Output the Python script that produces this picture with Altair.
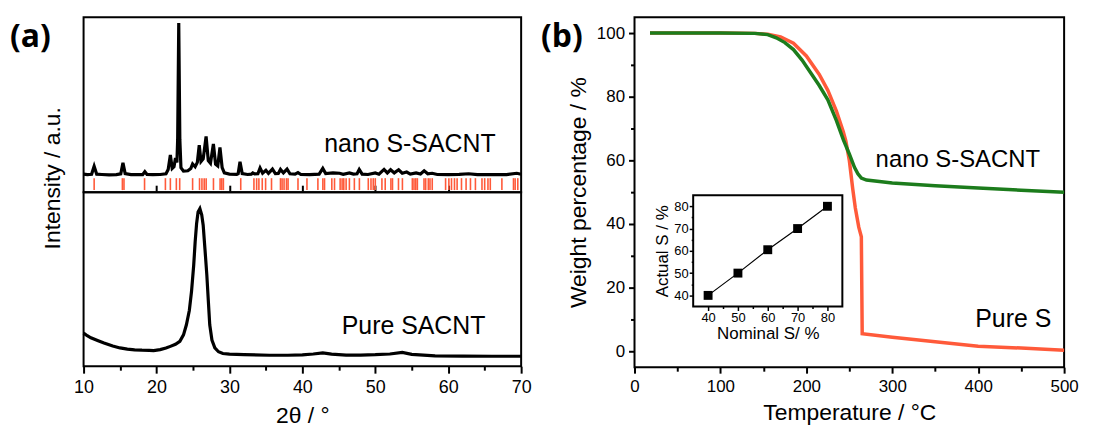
import altair as alt
import pandas as pd

FONT = "Arial, Liberation Sans, sans-serif"
RED = "#FF5A3A"
GREEN = "#1C7C1C"

# ---------------- (a) XRD data ----------------
s_theta = [10.0, 10.5, 11.1, 11.45, 11.8, 12.5, 13.5, 14.5, 15.1, 15.4, 15.7, 16.5, 17.5, 18.1, 18.4, 18.7,
           19.5, 20.5, 21.3, 21.6, 21.9, 22.15, 22.4, 22.6, 22.8, 22.9, 23.05, 23.2, 23.35, 23.7, 24.3, 24.7,
           24.95, 25.3, 25.6, 25.86, 26.1, 26.4, 26.8, 27.1, 27.4, 27.8, 28.1, 28.4, 28.7, 29.0, 29.3, 30.0,
           31.0, 31.2, 31.45, 31.75, 32.5, 33.0, 33.2, 33.45, 33.9, 34.2, 34.55, 35.0, 35.35, 35.9, 36.3,
           36.7, 37.0, 37.4, 37.9, 38.3, 39.0, 39.4, 39.8, 41.0, 42.3, 42.8, 43.2, 44.2, 45.1, 45.6, 46.45,
           47.0, 47.5, 47.8, 48.2, 49.0, 50.0, 50.5, 51.2, 51.65, 52.1, 52.6, 53.2, 53.7, 54.3, 54.8, 55.6,
           56.2, 56.7, 57.2, 57.8, 58.5, 60.0, 61.5, 62.8, 64.0, 66.0, 68.0, 69.4, 70.0]
s_int = [10.3, 10.0, 10.2, 14.8, 10.3, 10.1, 9.9, 10.0, 10.5, 16.7, 10.6, 10.0, 10.1, 10.0, 11.7, 10.1,
         10.0, 10.1, 10.5, 13.0, 21.2, 13.5, 14.5, 19.5, 17.0, 30.0, 96.6, 30.0, 14.0, 12.0, 12.2, 13.5,
         16.1, 14.5, 17.0, 26.9, 17.5, 19.0, 31.8, 18.0, 16.5, 27.5, 16.0, 15.0, 25.6, 14.0, 11.0, 10.3,
         10.2, 10.6, 17.4, 10.6, 10.1, 10.3, 11.0, 10.4, 10.5, 13.8, 10.8, 12.5, 10.7, 13.2, 10.6,
         10.7, 13.0, 11.0, 13.2, 10.5, 10.3, 11.2, 10.1, 10.0, 10.3, 13.6, 10.6, 11.0, 10.8, 10.2, 11.0,
         10.3, 10.5, 13.0, 10.3, 10.1, 11.0, 10.3, 13.0, 11.0, 12.8, 11.0, 12.8, 10.8, 11.5, 10.3, 11.0,
         10.4, 12.2, 10.5, 10.8, 10.1, 10.0, 10.2, 10.5, 10.0, 10.1, 10.0, 10.8, 10.2]

c_theta = [10.0, 10.5, 11.0, 12.0, 12.8, 14.0, 15.0, 16.0, 17.0, 18.0, 19.0, 19.6, 20.5, 21.3, 21.9, 22.6,
           23.2, 23.7, 24.1, 24.5, 24.8, 25.1, 25.3, 25.5, 25.7, 25.95, 26.2, 26.4, 26.65, 26.9, 27.1,
           27.3, 27.6, 28.0, 28.5, 29.1, 30.0, 32.0, 35.5, 38.0, 40.0, 41.5, 42.8, 44.0, 46.0, 48.0, 50.0,
           52.0, 53.7, 55.0, 58.2, 62.0, 66.0, 70.0]
c_int = [19.0, 17.5, 16.3, 14.6, 13.3, 11.6, 10.5, 9.8, 9.4, 9.2, 9.1, 9.0, 9.5, 10.4, 11.4, 12.6,
         14.3, 18.0, 23.8, 32.0, 42.9, 58.0, 71.4, 82.0, 88.6, 90.5, 87.0, 81.0, 67.0, 52.4, 38.0,
         23.8, 15.0, 10.5, 8.3, 7.3, 6.9, 6.6, 6.3, 6.3, 6.5, 7.0, 7.6, 6.9, 6.4, 6.4, 6.6,
         7.0, 7.9, 6.8, 5.9, 5.8, 5.7, 5.7]

ref_theta = [11.45, 15.32, 15.54, 18.36, 21.22, 21.9, 22.72, 23.18, 24.95, 25.9, 26.23, 26.54, 26.81,
             27.81, 28.72, 28.95, 29.17, 31.55, 33.36, 33.73, 34.04, 34.5, 34.96, 35.77, 37.0, 37.22,
             37.49, 37.82, 38.04, 39.4, 40.63, 42.13, 42.81, 43.04, 44.04, 44.41, 45.18, 45.45, 45.68,
             46.0, 46.45, 47.13, 47.82, 49.04, 49.41, 49.72, 50.0, 50.91, 51.36, 52.14, 52.36, 53.18,
             53.72, 55.08, 55.31, 55.55, 55.77, 56.68, 56.91, 57.27, 57.5, 57.81, 59.64, 60.09, 60.45,
             60.86, 61.22, 61.82, 62.45, 63.05, 63.73, 64.63, 65.0, 65.45, 65.77, 67.36, 68.95, 69.18,
             69.54]

# ---------------- (b) TGA data ----------------
pure_T = [18, 60, 100, 140, 155, 170, 185, 200, 215, 225, 235, 243, 246, 250, 254, 257, 261, 264, 265,
          300, 350, 400, 450, 500]
pure_W = [100, 100, 100, 99.9, 99.6, 98.8, 96.8, 92.8, 87.0, 82.0, 75.5, 69.0, 66.0, 60.0, 51.0, 45.0,
          39.0, 36.0, 5.5, 4.4, 3.0, 1.6, 1.0, 0.3]
nano_T = [18, 100, 140, 155, 165, 175, 185, 195, 205, 215, 225, 235, 243, 250, 256, 260, 264, 270, 300,
          350, 400, 450, 500]
nano_W = [100, 100, 99.9, 99.5, 98.5, 97.0, 94.8, 91.5, 87.5, 83.5, 79.0, 72.5, 66.5, 62.0, 57.8, 55.8,
          54.4, 53.8, 52.9, 52.0, 51.3, 50.6, 50.0]

nominal_s = [40, 50, 60, 70, 80]
actual_s = [40, 50, 60.5, 70, 80]
actual_err = [1.5, 1.5, 1.5, 1.5, 1.5]

# ---------------- tables ----------------
df_s = pd.DataFrame({"theta": s_theta, "I": s_int})
df_c = pd.DataFrame({"theta": c_theta, "I": c_int})
df_ref = pd.DataFrame({"theta": ref_theta})
df_pure = pd.DataFrame({"T": pure_T, "W": pure_W})
df_nano = pd.DataFrame({"T": nano_T, "W": nano_W})
df_in = pd.DataFrame({"nom": nominal_s, "act": actual_s,
                      "lo": [a - e for a, e in zip(actual_s, actual_err)],
                      "hi": [a + e for a, e in zip(actual_s, actual_err)]})
inset_dom = [35, 85]
df_frame = pd.DataFrame({"x": [inset_dom[0]], "x2": [inset_dom[1]], "y": [inset_dom[0]], "y2": [inset_dom[1]]})


def major_minor_axis(step_major, values, **kw):
    return alt.Axis(
        values=values,
        labelExpr=f"datum.value % {step_major} === 0 ? datum.label : ''",
        tickSize={"condition": {"test": f"datum.value % {step_major} === 0", "value": kw.pop("major", 7)},
                  "value": kw.pop("minor", 4)},
        tickColor="black", domain=False, grid=False, labelFont=FONT, labelColor="black",
        labelFlush=False, labelOverlap=False, titleFont=FONT, titleFontWeight="normal",
        titleColor="black", **kw)


def label(text, x, y, size=32, align="left"):
    return alt.Chart(pd.DataFrame({"t": [text]})).mark_text(
        font="Open Sans", fontWeight="bold", fontSize=size, align=align, baseline="middle", color="black"
    ).encode(x=alt.value(x), y=alt.value(y), text="t:N")


# ---------------- panel (a) ----------------
xa_scale = alt.Scale(domain=[10, 70], nice=False, zero=False)
ya_scale = alt.Scale(domain=[0, 100], nice=False, zero=False)
top_x_axis = alt.Axis(orient="bottom", offset=-7, values=[20, 30, 40, 50, 60], tickSize=6, tickWidth=2,
                      tickColor="black", labels=False, domain=False, grid=False, title=None)
xa_top = lambda f: alt.X(f, scale=xa_scale, axis=top_x_axis)

a_line = alt.Chart(df_s).mark_line(color="black", strokeWidth=3.2).encode(
    x=xa_top("theta:Q"), y=alt.Y("I:Q", scale=ya_scale, axis=None))
a_ref = alt.Chart(df_ref).mark_rule(color=RED, strokeWidth=1.6).encode(
    x=xa_top("theta:Q"), y=alt.Y(datum=1.2, scale=ya_scale, axis=None), y2=alt.datum(8))
a_txt = alt.Chart(pd.DataFrame({"t": ["nano S-SACNT"]})).mark_text(
    font=FONT, fontSize=25, align="right", baseline="middle", color="black").encode(
    x=alt.X(datum=66.5, scale=xa_scale, axis=top_x_axis), y=alt.Y(datum=27.3, scale=ya_scale, axis=None),
    text="t:N")
a_ytitle = alt.Chart(pd.DataFrame({"t": ["Intensity / a.u."]})).mark_text(
    font=FONT, fontSize=23, angle=270, align="center", baseline="middle", color="black").encode(
    x=alt.value(-31), y=alt.value(162), text="t:N")
a_top = alt.layer(a_line, a_ref, a_txt, a_ytitle, label("(a)", -74, 20)).properties(width=440, height=176)

bot_x_axis = major_minor_axis(10, list(range(10, 71, 5)), labelFontSize=18, labelPadding=5, tickWidth=2,
                              title="2θ / °", titleFontSize=23, titlePadding=9, major=7, minor=4)
b_line = alt.Chart(df_c).mark_line(color="black", strokeWidth=3.2).encode(
    x=alt.X("theta:Q", scale=xa_scale, axis=bot_x_axis), y=alt.Y("I:Q", scale=ya_scale, axis=None))
b_txt = alt.Chart(pd.DataFrame({"t": ["Pure SACNT"]})).mark_text(
    font=FONT, fontSize=25, align="right", baseline="middle", color="black").encode(
    x=alt.X(datum=65.1, scale=xa_scale, axis=bot_x_axis), y=alt.Y(datum=22.9, scale=ya_scale, axis=None),
    text="t:N")
a_bot = alt.layer(b_line, b_txt).properties(width=440, height=175)

panel_a = alt.vconcat(a_top, a_bot, spacing=0, bounds="flush")

# ---------------- panel (b) ----------------
xb_scale = alt.Scale(domain=[0, 500], nice=False, zero=False)
yb_scale = alt.Scale(domain=[-5, 105], nice=False, zero=False)
xb_axis = major_minor_axis(100, list(range(0, 501, 50)), labelFontSize=17, labelPadding=5, tickWidth=2,
                           title="Temperature / °C", titleFontSize=23, titlePadding=8, major=6, minor=4,
                           orient="bottom")
yb_axis = major_minor_axis(20, list(range(0, 101, 10)), labelFontSize=17, labelPadding=4, tickWidth=2,
                           title="Weight percentage / %", titleFontSize=23, titlePadding=6, major=6, minor=4,
                           orient="left")
xb = lambda **k: alt.X(scale=xb_scale, axis=xb_axis, **k)
yb = lambda **k: alt.Y(scale=yb_scale, axis=yb_axis, **k)

red_line = alt.Chart(df_pure).mark_line(color=RED, strokeWidth=3.5).encode(
    x=xb(field="T", type="quantitative"), y=yb(field="W", type="quantitative"))
green_line = alt.Chart(df_nano).mark_line(color=GREEN, strokeWidth=3.5).encode(
    x=xb(field="T", type="quantitative"), y=yb(field="W", type="quantitative"))
t_nano = alt.Chart(pd.DataFrame({"t": ["nano S-SACNT"]})).mark_text(
    font=FONT, fontSize=24, align="right", baseline="middle", color="black").encode(
    x=xb(datum=472), y=yb(datum=60), text="t:N")
t_pure = alt.Chart(pd.DataFrame({"t": ["Pure S"]})).mark_text(
    font=FONT, fontSize=25, align="right", baseline="middle", color="black").encode(
    x=xb(datum=485), y=yb(datum=10), text="t:N")
main_b = alt.layer(red_line, green_line, t_nano, t_pure, label("(b)", -94, 20))

# inset
ix_scale = alt.Scale(domain=inset_dom, range=[59, 209], nice=False, zero=False)
iy_scale = alt.Scale(domain=inset_dom, range=[291, 179], nice=False, zero=False)
ix_axis = major_minor_axis(10, list(range(40, 81, 5)), orient="bottom", offset=-61, labelFontSize=13,
                           labelPadding=1, tickWidth=1.5, title="Nominal S/ %", titleFontSize=17,
                           titlePadding=1, major=4, minor=2)
iy_axis = major_minor_axis(10, list(range(40, 81, 5)), orient="left", offset=-59, labelFontSize=13,
                           labelPadding=1, tickWidth=1.5, title="Actual S / %", titleFontSize=17,
                           titlePadding=2, major=4, minor=2)
ix = lambda **k: alt.X(scale=ix_scale, axis=ix_axis, **k)
iy = lambda **k: alt.Y(scale=iy_scale, axis=iy_axis, **k)

i_frame = alt.Chart(df_frame).mark_rect(fillOpacity=0, stroke="black", strokeWidth=2).encode(
    x=ix(field="x", type="quantitative"), x2="x2:Q", y=iy(field="y", type="quantitative"), y2="y2:Q")
i_err = alt.Chart(df_in).mark_rule(color="#888888", strokeWidth=1).encode(
    x=ix(field="nom", type="quantitative"), y=iy(field="lo", type="quantitative"), y2="hi:Q")
i_line = alt.Chart(df_in).mark_line(color="black", strokeWidth=1.2).encode(
    x=ix(field="nom", type="quantitative"), y=iy(field="act", type="quantitative"))
i_pts = alt.Chart(df_in).mark_square(color="black", size=80, opacity=1).encode(
    x=ix(field="nom", type="quantitative"), y=iy(field="act", type="quantitative"))
inset = alt.layer(i_frame, i_err, i_line, i_pts)

panel_b = alt.layer(main_b, inset).resolve_scale(x="independent", y="independent").resolve_axis(
    x="independent", y="independent").properties(width=432, height=352)

chart = alt.hconcat(panel_a, panel_b, spacing=7).properties(
    padding={"left": 1, "top": 6, "right": 5, "bottom": 5}, background="white"
).configure_view(stroke="black", strokeWidth=2).configure_axis(grid=False)

chart.save("out.html", embed_options={"renderer": "svg", "actions": False})
